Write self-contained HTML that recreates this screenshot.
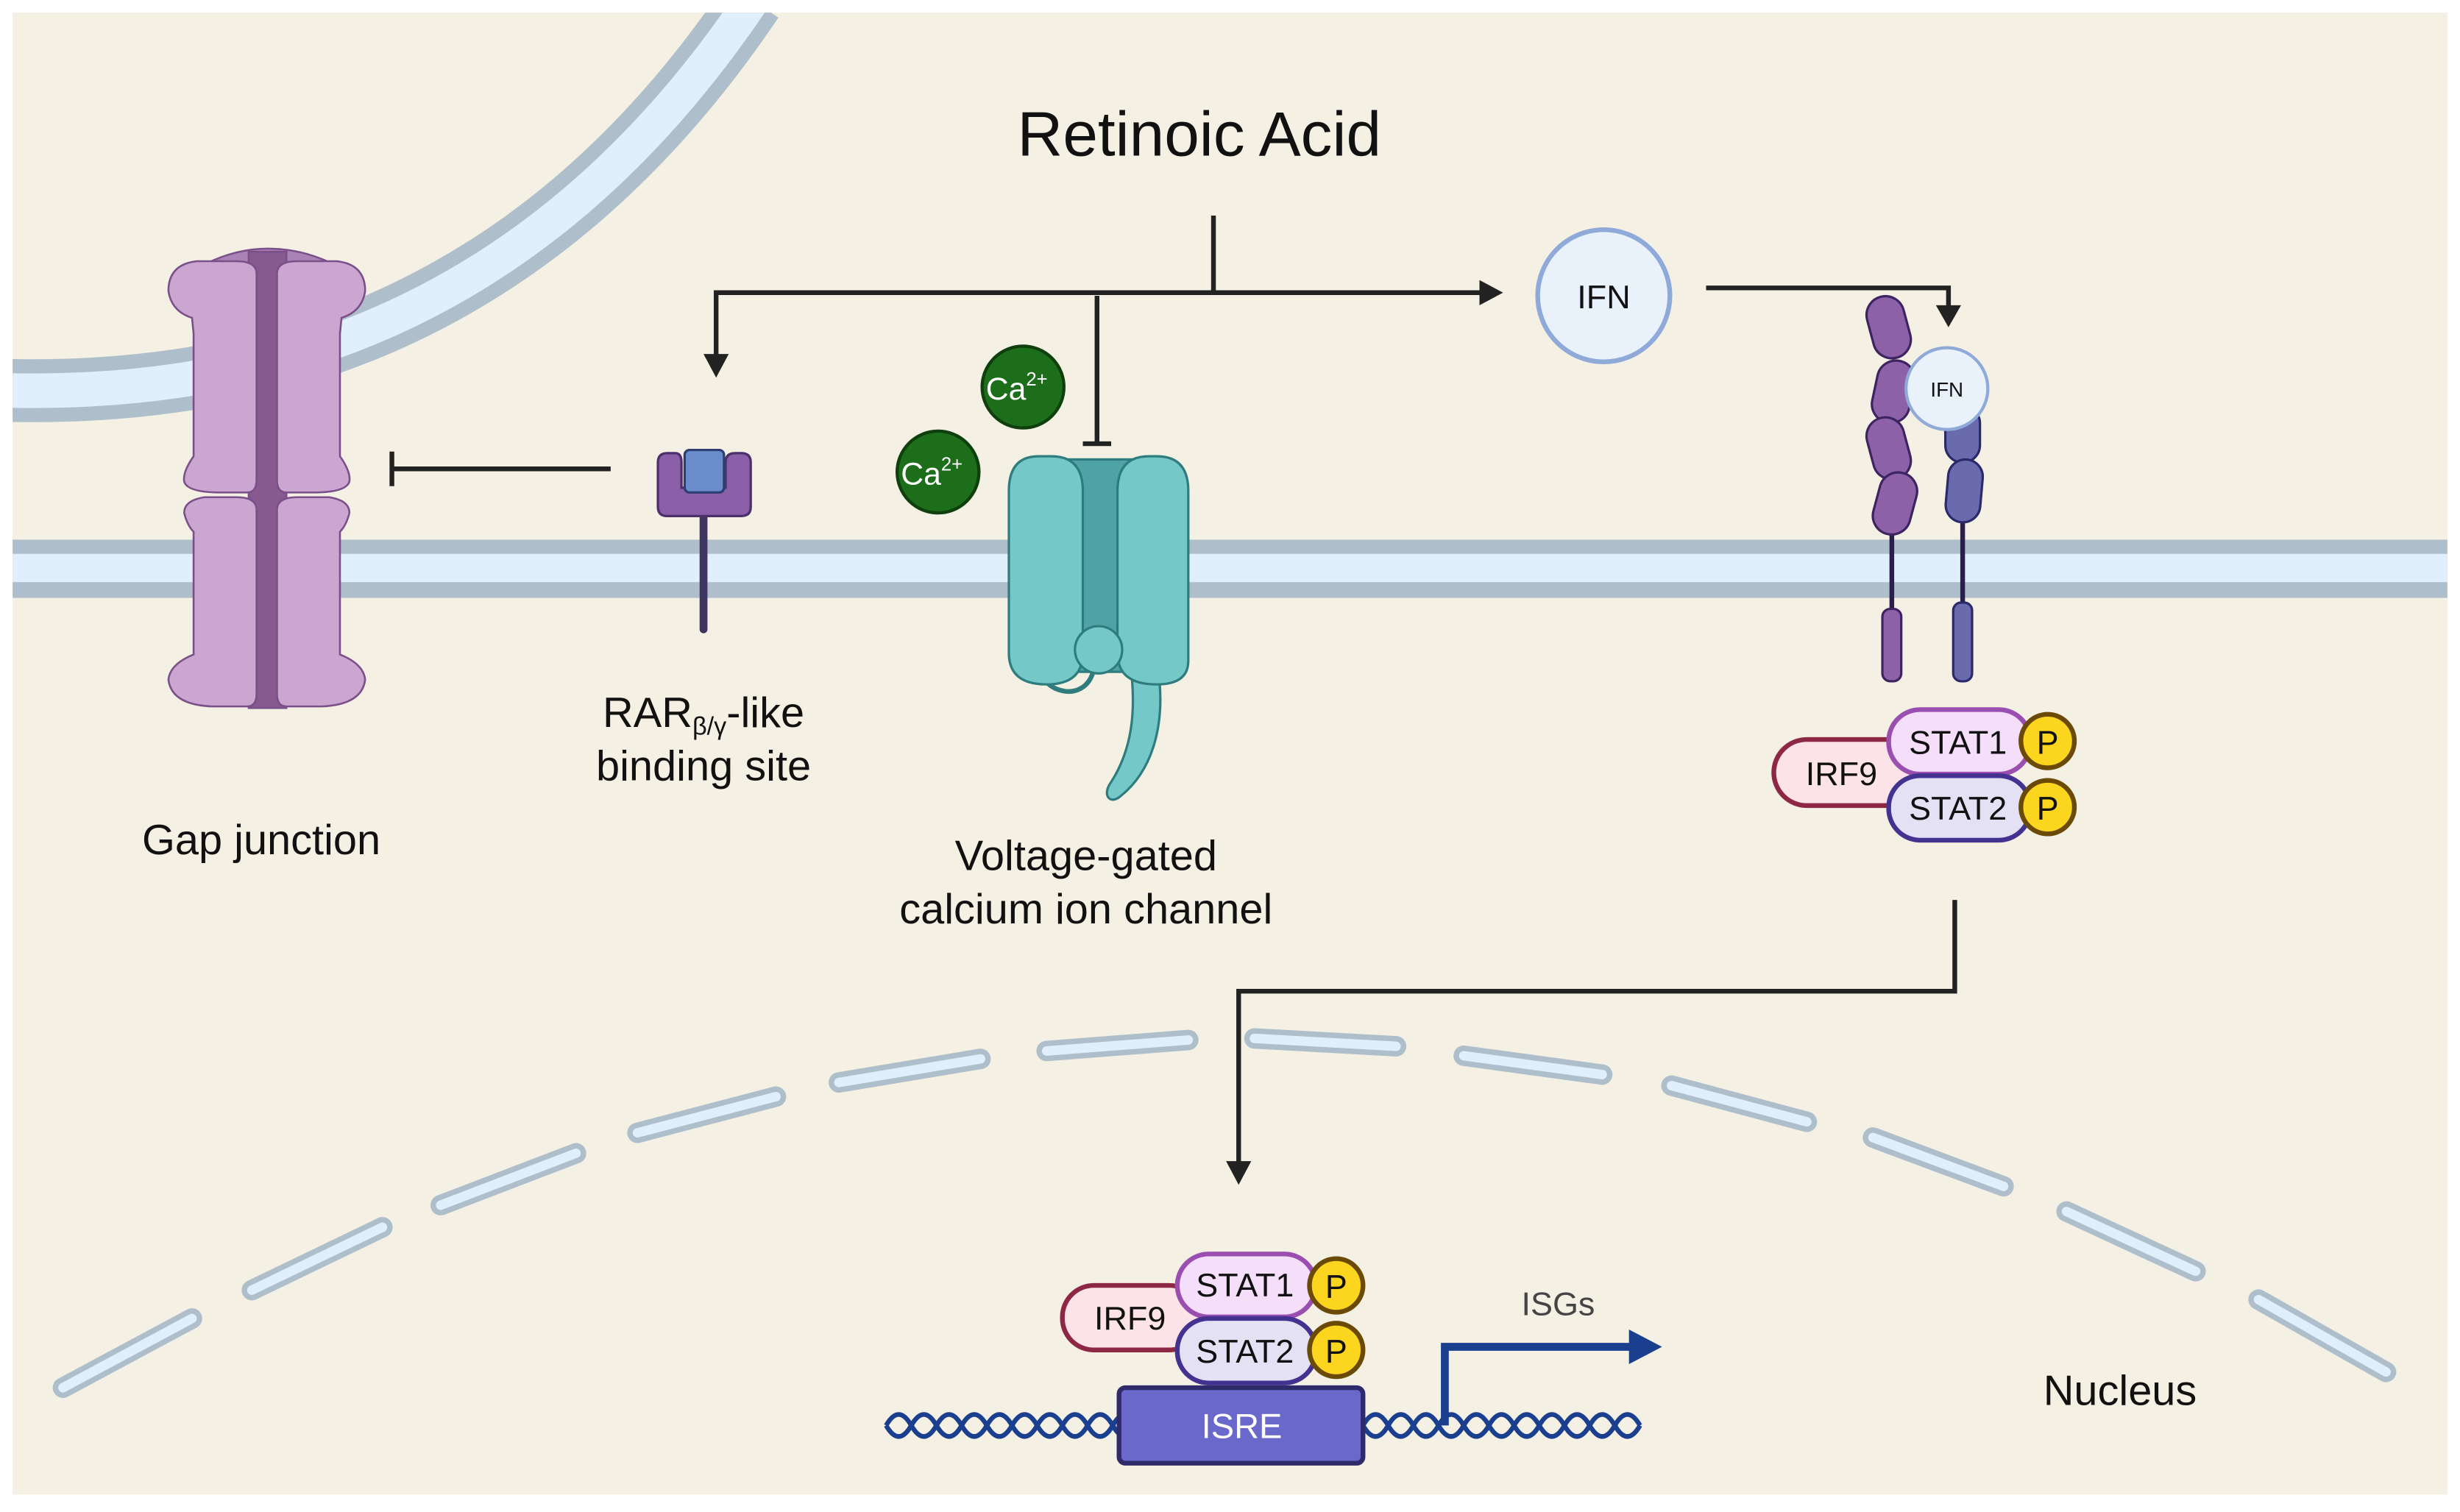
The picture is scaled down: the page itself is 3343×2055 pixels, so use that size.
<!DOCTYPE html>
<html><head><meta charset="utf-8"><style>
html,body{margin:0;padding:0;background:#fff;}
svg{display:block;}
text{font-family:"Liberation Sans",sans-serif;}
</style></head><body>
<svg width="3343" height="2055" viewBox="0 0 1563 961" preserveAspectRatio="none" xmlns="http://www.w3.org/2000/svg">
<rect x="8" y="8" width="1547" height="942" fill="#f4f0e4"/>
<clipPath id="bg"><rect x="8" y="8" width="1547" height="942"/></clipPath>
<g clip-path="url(#bg)">
<path d="M0,248 C140,252 330,220 478,0" fill="none" stroke="#aebfcb" stroke-width="40"/>
<path d="M0,248 C140,252 330,220 478,0" fill="none" stroke="#e0effb" stroke-width="22"/>
</g>
<rect x="8" y="343" width="1547" height="37" fill="#aebfcb"/>
<rect x="8" y="352" width="1547" height="18" fill="#e0effb"/>
<!-- gap junction -->
<g stroke="#7a4f8a" stroke-width="1.2">
<path d="M130,168 Q150,158 170,158 Q192,158 212,168 L214,180 L126,180 Z" fill="#a983b6"/>
<rect x="158" y="160" width="24" height="290" fill="#86598f"/>
<path d="M163,174 Q163,166 150,166 L125,166 Q107,168 107,185 Q109,198 122,202 L123,212 L123,290 Q116,300 117,306 Q119,313 140,313 L157,313 Q163,313 163,305 Z" fill="#cba6d0"/>
<path d="M176,174 Q176,166 189,166 L214,166 Q232,168 232,185 Q230,198 217,202 L216,212 L216,290 Q223,300 222,306 Q220,313 199,313 L182,313 Q176,313 176,305 Z" fill="#cba6d0"/>
<path d="M163,324 Q163,316 150,316 L130,316 Q117,318 117,326 Q119,334 123,338 L123,416 Q108,422 107,432 Q109,448 135,449 L157,449 Q163,449 163,441 Z" fill="#cba6d0"/>
<path d="M176,324 Q176,316 189,316 L209,316 Q222,318 222,326 Q220,334 216,338 L216,416 Q231,422 232,432 Q230,448 204,449 L182,449 Q176,449 176,441 Z" fill="#cba6d0"/>
</g>
<line x1="388" y1="298" x2="249" y2="298" stroke="#222" stroke-width="3"/>
<line x1="249" y1="287" x2="249" y2="309" stroke="#222" stroke-width="3"/>
<!-- RAR receptor -->
<line x1="447" y1="326" x2="447" y2="400" stroke="#3e3560" stroke-width="5" stroke-linecap="round"/>
<path d="M418,294 Q418,288 424,288 L429,288 Q433,288 433,294 L433,310 L461,310 L461,294 Q461,288 467,288 L471,288 Q477,288 477,294 L477,322 Q477,328 471,328 L424,328 Q418,328 418,322 Z" fill="#8a5fa8" stroke="#4d2f6b" stroke-width="1.5"/>
<rect x="435" y="286" width="25" height="27" rx="3" fill="#6a8ccb" stroke="#2c3f70" stroke-width="1.5"/>
<text x="447" y="462" font-size="27" text-anchor="middle" fill="#111">RAR<tspan font-size="16" dy="5">β/γ</tspan><tspan dy="-5">-like</tspan></text>
<text x="447" y="496" font-size="27" text-anchor="middle" fill="#111">binding site</text>
<text x="166" y="543" font-size="27" text-anchor="middle" fill="#111">Gap junction</text>
<text x="762" y="99" font-size="40" text-anchor="middle" fill="#111">Retinoic Acid</text>
<g stroke="#222" stroke-width="3" fill="none">
<line x1="771" y1="137" x2="771" y2="186"/>
<path d="M940,186 L455,186 L455,228" />
<line x1="697" y1="188" x2="697" y2="281"/>
<line x1="688" y1="282" x2="706" y2="282"/>
<path d="M1084,183 L1238,183 L1238,196"/>
<path d="M1242,572 L1242,630 L787,630 L787,740"/>
</g>
<path d="M940,178 L955,186 L940,194 z" fill="#222"/>
<path d="M447,225 L455,240 L463,225 z" fill="#222"/>
<path d="M1230,194 L1238,208 L1246,194 z" fill="#222"/>
<path d="M779,738 L787,753 L795,738 z" fill="#222"/>
<circle cx="1019" cy="188" r="42" fill="#e9f1fb" stroke="#8faad8" stroke-width="3"/>
<text x="1019" y="196" font-size="21" text-anchor="middle" fill="#111">IFN</text>
<circle cx="650" cy="246" r="26" fill="#1c6e1a" stroke="#0e3f0d" stroke-width="2"/>
<text x="646" y="254" font-size="20" text-anchor="middle" fill="#fff">Ca<tspan font-size="12" dy="-9">2+</tspan></text>
<circle cx="596" cy="300" r="26" fill="#1c6e1a" stroke="#0e3f0d" stroke-width="2"/>
<text x="592" y="308" font-size="20" text-anchor="middle" fill="#fff">Ca<tspan font-size="12" dy="-9">2+</tspan></text>
<!-- Ca channel -->
<g stroke="#2f7c7e" stroke-width="1.5">
<path d="M735,420 C742,460 732,490 712,506 C705,512 700,505 706,497 C720,475 722,450 718,420 Z" fill="#74c8c8"/>
<path d="M660,415 C655,440 690,450 695,425" fill="none" stroke="#2f7c7e" stroke-width="3"/>
<rect x="672" y="292" width="50" height="135" fill="#4fa3a6"/>
<path d="M641,312 Q641,290 660,290 L668,290 Q688,290 688,312 L688,415 Q688,435 665,435 Q641,435 641,415 Z" fill="#74c8c8"/>
<path d="M710,312 Q710,290 730,290 L735,290 Q755,290 755,312 L755,420 Q755,435 735,435 Q710,435 710,415 Z" fill="#74c8c8"/>
<circle cx="698" cy="413" r="15" fill="#74c8c8"/>
</g>
<text x="690" y="553" font-size="27" text-anchor="middle" fill="#111">Voltage-gated</text>
<text x="690" y="587" font-size="27" text-anchor="middle" fill="#111">calcium ion channel</text>
<!-- IFN receptor -->
<line x1="1202" y1="330" x2="1202" y2="392" stroke="#2a1f4a" stroke-width="3"/>
<line x1="1247" y1="325" x2="1247" y2="388" stroke="#2a1f4a" stroke-width="3"/>
<g stroke="#3d2460" stroke-width="1.5" fill="#8c61a8">
<rect x="1188" y="188" width="24" height="40" rx="12" transform="rotate(-15 1200 208)"/>
<rect x="1191" y="229" width="24" height="40" rx="12" transform="rotate(12 1203 249)"/>
<rect x="1188" y="265" width="24" height="40" rx="12" transform="rotate(-15 1200 285)"/>
<rect x="1192" y="300" width="24" height="40" rx="12" transform="rotate(15 1204 320)"/>
<rect x="1196" y="387" width="12" height="46" rx="5"/>
</g>
<g stroke="#2a2a6a" stroke-width="1.5" fill="#6a6aae">
<rect x="1236" y="258" width="22" height="36" rx="11"/>
<rect x="1237" y="292" width="22" height="40" rx="11" transform="rotate(5 1248 312)"/>
<rect x="1241" y="383" width="12" height="50" rx="5"/>
</g>
<circle cx="1237" cy="247" r="26" fill="#e9f1fb" stroke="#8faad8" stroke-width="2"/>
<text x="1237" y="252" font-size="13" text-anchor="middle" fill="#111">IFN</text>
<rect x="1127" y="470" width="92" height="42" rx="21" fill="#fbe3e8" stroke="#8d2744" stroke-width="3"/>
<text x="1170" y="499" font-size="21" text-anchor="middle" fill="#111">IRF9</text>
<rect x="1200" y="451" width="90" height="41" rx="20" fill="#f4defa" stroke="#9a4fb0" stroke-width="3"/>
<text x="1244" y="479" font-size="21" text-anchor="middle" fill="#111">STAT1</text>
<rect x="1200" y="493" width="90" height="41" rx="20" fill="#e4e1f5" stroke="#43328f" stroke-width="3"/>
<text x="1244" y="521" font-size="21" text-anchor="middle" fill="#111">STAT2</text>
<circle cx="1301" cy="471" r="17" fill="#fbd51e" stroke="#6a4a06" stroke-width="3"/>
<text x="1301" y="479" font-size="21" text-anchor="middle" fill="#111">P</text>
<circle cx="1301" cy="513" r="17" fill="#fbd51e" stroke="#6a4a06" stroke-width="3"/>
<text x="1301" y="521" font-size="21" text-anchor="middle" fill="#111">P</text>
<g stroke-linecap="round" fill="none">
<path stroke="#aebfcb" stroke-width="13" d="M40,882 L122,838 M160,820 L243,780 M280,766 L366,733 M405,720 L493,697 M533,688 L623,673 M665,668 L755,661 M797,660 L887,665 M930,671 L1018,683 M1062,690 L1148,713 M1190,723 L1273,754 M1313,770 L1395,808 M1435,826 L1516,872"/>
<path stroke="#e0effb" stroke-width="6" d="M40,882 L122,838 M160,820 L243,780 M280,766 L366,733 M405,720 L493,697 M533,688 L623,673 M665,668 L755,661 M797,660 L887,665 M930,671 L1018,683 M1062,690 L1148,713 M1190,723 L1273,754 M1313,770 L1395,808 M1435,826 L1516,872"/>
</g>
<g fill="none" stroke="#1a3f8e" stroke-width="3">
<path d="M563,906 q8,-14 16,0 t16,0 t16,0 t16,0 t16,0 t16,0 t16,0 t16,0 t16,0 t16,0 M866,906 q8,-14 16,0 t16,0 t16,0 t16,0 t16,0 t16,0 t16,0 t16,0 t16,0 t16,0 t16,0"/>
<path d="M563,906 q8,14 16,0 t16,0 t16,0 t16,0 t16,0 t16,0 t16,0 t16,0 t16,0 t16,0 M866,906 q8,14 16,0 t16,0 t16,0 t16,0 t16,0 t16,0 t16,0 t16,0 t16,0 t16,0 t16,0"/>
</g>
<rect x="711" y="882" width="155" height="48" rx="4" fill="#6a68cb" stroke="#2f2a6a" stroke-width="3"/>
<text x="789" y="914" font-size="22" text-anchor="middle" fill="#fff">ISRE</text>
<rect x="675" y="817" width="88" height="41" rx="20" fill="#fbe3e8" stroke="#8d2744" stroke-width="3"/>
<text x="718" y="845" font-size="21" text-anchor="middle" fill="#111">IRF9</text>
<rect x="748" y="797" width="88" height="40" rx="20" fill="#f4defa" stroke="#9a4fb0" stroke-width="3"/>
<text x="791" y="824" font-size="21" text-anchor="middle" fill="#111">STAT1</text>
<rect x="748" y="838" width="88" height="41" rx="20" fill="#e4e1f5" stroke="#43328f" stroke-width="3"/>
<text x="791" y="866" font-size="21" text-anchor="middle" fill="#111">STAT2</text>
<circle cx="849" cy="817" r="17" fill="#fbd51e" stroke="#6a4a06" stroke-width="3"/>
<text x="849" y="825" font-size="21" text-anchor="middle" fill="#111">P</text>
<circle cx="849" cy="858" r="17" fill="#fbd51e" stroke="#6a4a06" stroke-width="3"/>
<text x="849" y="866" font-size="21" text-anchor="middle" fill="#111">P</text>
<path d="M918,906 L918,856 L1040,856" fill="none" stroke="#1a3f8e" stroke-width="5"/>
<path d="M1035,845 L1056,856 L1035,867 z" fill="#1a3f8e"/>
<text x="990" y="836" font-size="21" text-anchor="middle" fill="#444">ISGs</text>
<text x="1347" y="893" font-size="27" text-anchor="middle" fill="#111">Nucleus</text>
</svg>
</body></html>
